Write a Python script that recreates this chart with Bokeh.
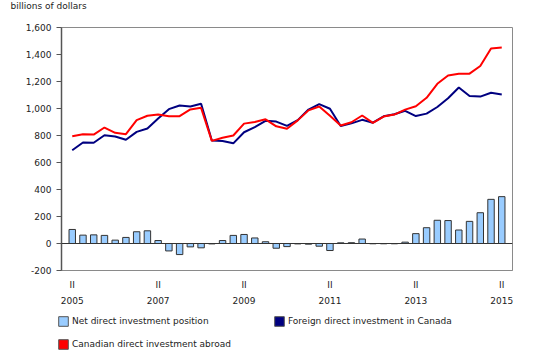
from bokeh.plotting import figure
from bokeh.layouts import column
from bokeh.models import (Range1d, FixedTicker, NumeralTickFormatter, Span,
                          Legend, LegendItem, ColumnDataSource)
from bokeh.embed import file_html
from bokeh.resources import INLINE

# Quarterly data, 2005 Q2 to 2015 Q2 (billions of dollars)
quarters = [f"{y} Q{q}" for y in range(2005, 2016) for q in (1, 2, 3, 4)][1:42]
xpos = list(range(len(quarters)))

net_position = [104, 62, 64, 60, 25, 45, 87, 94, 22, -55, -82, -25, -32, -3,
                22, 60, 67, 41, 13, -35, -23, -3, -5, -20, -52, 5, 6, 33,
                -2, -2, -2, 10, 73, 117, 172, 170, 100, 164, 228, 327, 347]

fdi_canada = [691, 748, 746, 802, 793, 768, 827, 852, 926, 995, 1022, 1015,
              1035, 763, 759, 742, 824, 862, 909, 903, 871, 914, 992, 1032,
              998, 870, 890, 916, 895, 942, 957, 983, 944, 962, 1011, 1076,
              1156, 1093, 1088, 1117, 1104]

cdia_abroad = [795, 810, 807, 859, 820, 810, 914, 946, 955, 943, 943, 993,
               1005, 760, 783, 800, 888, 900, 920, 868, 850, 912, 986, 1015,
               946, 874, 898, 948, 894, 940, 955, 992, 1017, 1079, 1183, 1245,
               1258, 1258, 1315, 1444, 1451]

tick_index = [0, 8, 16, 24, 32, 40]
tick_labels = ["II\n2005", "II\n2007", "II\n2009", "II\n2011", "II\n2013", "II\n2015"]
y_ticks = [-200, 0, 200, 400, 600, 800, 1000, 1200, 1400, 1600]

series_names = ["Net direct investment position",
                "Foreign direct investment in Canada",
                "Canadian direct investment abroad"]
BAR_C, FDI_C, CDIA_C = "#99CCFF", "#000080", "#FF0000"

FONT = "DejaVu Sans"
FS = "9px"
TXT = "#222222"
NAN = float("nan")

src = ColumnDataSource(dict(x=xpos, net=net_position, fdi=fdi_canada, cdia=cdia_abroad))

p = figure(width=539, height=308, output_backend="svg", toolbar_location=None,
           x_range=Range1d(-1, 41), y_range=Range1d(-200, 1600),
           min_border_left=61, min_border_right=27, min_border_top=27,
           min_border_bottom=36)

p.title.text = "billions of dollars"
p.title.align = "left"
p.title.offset = -51
p.title.standoff = 0
p.title.padding = (0, 0, 0, 15)
p.title.vertical_align = "top"
p.title.text_font = FONT
p.title.text_font_size = FS
p.title.text_font_style = "normal"
p.title.text_color = TXT

p.xgrid.visible = False
p.ygrid.visible = False
p.outline_line_color = "#8a8a8a"
p.outline_line_width = 1

p.vbar(x="x", top="net", bottom=0, width=0.6, source=src,
       fill_color=BAR_C, line_color="#333333", line_width=1)
p.line("x", "fdi", source=src, line_color=FDI_C, line_width=2)
p.line("x", "cdia", source=src, line_color=CDIA_C, line_width=2)

p.add_layout(Span(location=0, dimension="width", line_color="#333333", line_width=1))

yax = p.yaxis[0]
yax.ticker = FixedTicker(ticks=y_ticks)
yax.formatter = NumeralTickFormatter(format="0,0")
yax.major_tick_out = 5
yax.major_tick_in = 0
yax.minor_tick_line_color = None
yax.major_label_standoff = 5
yax.axis_line_color = "#555555"
yax.axis_line_width = 1.5
yax.major_tick_line_color = "#555555"
yax.major_label_text_font = FONT
yax.major_label_text_font_size = FS
yax.major_label_text_color = TXT

xax = p.xaxis[0]
xax.ticker = FixedTicker(ticks=tick_index)
xax.major_label_overrides = {i: l for i, l in zip(tick_index, tick_labels)}
xax.major_tick_line_color = None
xax.minor_tick_line_color = None
xax.major_tick_out = 0
xax.major_tick_in = 0
xax.major_label_standoff = 9
xax.axis_line_color = "#8a8a8a"
xax.major_label_text_font = FONT
xax.major_label_text_font_size = FS
xax.major_label_text_color = TXT
xax.major_label_text_line_height = 1.6

# Legend strip below the chart
lg = figure(width=539, height=50, output_backend="svg", toolbar_location=None,
            x_axis_type=None, y_axis_type=None, x_range=Range1d(0, 1),
            y_range=Range1d(0, 1), min_border=0)
lg.outline_line_color = None
lg.xgrid.visible = False
lg.ygrid.visible = False
r_net = lg.vbar(x=[NAN], top=[NAN], width=0.6, fill_color=BAR_C, line_color="#555555")
r_fdi = lg.vbar(x=[NAN], top=[NAN], width=0.6, fill_color=FDI_C, line_color="#555555")
r_cdia = lg.vbar(x=[NAN], top=[NAN], width=0.6, fill_color=CDIA_C, line_color="#555555")

legend = Legend(items=[
    LegendItem(label=series_names[0], renderers=[r_net]),
    LegendItem(label=series_names[1], renderers=[r_fdi]),
    LegendItem(label=series_names[2], renderers=[r_cdia]),
], location=(57, 8), orientation="horizontal", ncols=2,
    glyph_width=12, glyph_height=12, label_standoff=3, label_width=190,
    label_height=12, spacing=11, padding=0, margin=0,
    border_line_color=None, background_fill_alpha=0,
    label_text_font=FONT, label_text_font_size=FS, label_text_color=TXT)
lg.add_layout(legend)

layout = column(p, column(lg, spacing=0), spacing=0)
open("out.html", "w").write(file_html(layout, INLINE))
